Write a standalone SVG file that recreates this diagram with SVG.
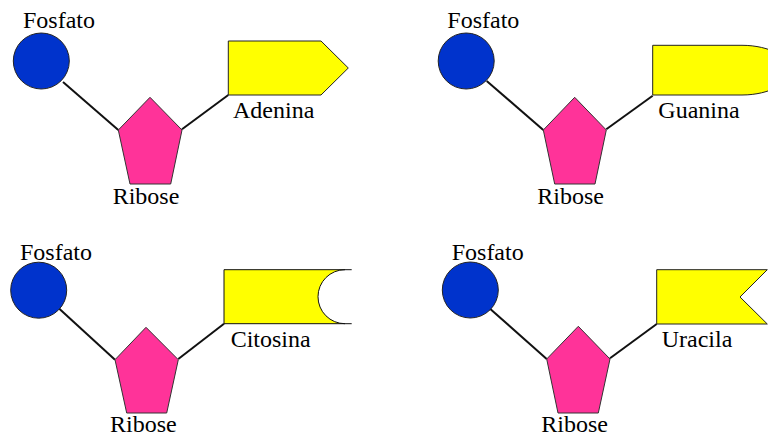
<svg xmlns="http://www.w3.org/2000/svg" width="768" height="436" viewBox="0 0 768 436">
<style>
text{font-family:"Liberation Serif","Times New Roman","DejaVu Serif",serif;font-size:24px;fill:#000}
.p{fill:#0033CC;stroke:#222;stroke-width:1}
.r{fill:#FF3399;stroke:#333;stroke-width:1}
.b{fill:#FFFF00;stroke:#222;stroke-width:1}
.c{stroke:#111;stroke-width:2;fill:none}
</style>
<rect width="768" height="436" fill="#fff"/>
<g id="connectors">
<line class="c" x1="63" y1="82" x2="118.3" y2="130"/>
<line class="c" x1="182" y1="129.3" x2="228.3" y2="95"/>
<line class="c" x1="486.7" y1="81" x2="543.3" y2="130"/>
<line class="c" x1="606.3" y1="129.3" x2="652.7" y2="95.7"/>
<line class="c" x1="59.3" y1="308.7" x2="115" y2="359.7"/>
<line class="c" x1="178.3" y1="359" x2="224" y2="323.7"/>
<line class="c" x1="490" y1="308.7" x2="546.7" y2="359"/>
<line class="c" x1="610" y1="358.3" x2="656.7" y2="324"/>
</g>
<g id="fosfato1"><circle class="p" cx="41.3" cy="61" r="28"/><text x="23" y="28" font-family="Liberation Serif, serif">Fosfato</text></g>
<g id="ribose1"><polygon class="r" points="150,97.3 182,130 170.7,184 130,184 118.3,130"/><text x="112.7" y="204" font-family="Liberation Serif, serif">Ribose</text></g>
<g id="adenina"><polygon class="b" points="228.3,41 321,41 348.3,68 321,95 228.3,95"/><text x="233" y="118.3" font-family="Liberation Serif, serif">Adenina</text></g>
<g id="fosfato2"><circle class="p" cx="466.2" cy="61" r="28"/><text x="447.3" y="28" font-family="Liberation Serif, serif">Fosfato</text></g>
<g id="ribose2"><polygon class="r" points="574.7,97.3 606.3,130 595,184 554.7,184 543.3,130"/><text x="537.3" y="204" font-family="Liberation Serif, serif">Ribose</text></g>
<g id="guanina"><path class="b" d="M652.7,45.3 H742 C770,45.3 792,58 792,70 C792,82 770,95 742,95 H652.7 Z"/><text x="658.3" y="118.3" font-family="Liberation Serif, serif">Guanina</text></g>
<g id="fosfato3"><circle class="p" cx="38.7" cy="290.2" r="28"/><text x="20" y="259.7" font-family="Liberation Serif, serif">Fosfato</text></g>
<g id="ribose3"><polygon class="r" points="146,327.3 178.3,359.7 166.7,413 126.7,413 115,359.7"/><text x="110" y="432" font-family="Liberation Serif, serif">Ribose</text></g>
<g id="citosina"><path d="M224,269.7 H345 A27,27 0 0 0 345,323.7 H224 Z" fill="#FFFF00" stroke="none"/><path class="c" style="stroke-width:1" d="M224,269.7 H351.7 M345,269.7 A27,27 0 0 0 345,323.7 M351.7,323.7 H224 V269.7"/><text x="230.7" y="347.3" font-family="Liberation Serif, serif">Citosina</text></g>
<g id="fosfato4"><circle class="p" cx="470.3" cy="290" r="28"/><text x="451.7" y="259.7" font-family="Liberation Serif, serif">Fosfato</text></g>
<g id="ribose4"><polygon class="r" points="578.3,326.3 610,359 598.3,413 558,413 546.7,359"/><text x="541.3" y="432" font-family="Liberation Serif, serif">Ribose</text></g>
<g id="uracila"><polygon class="b" points="656.7,269.7 767.3,269.7 740,297 767.3,324 656.7,324"/><text x="661.7" y="347.3" font-family="Liberation Serif, serif">Uracila</text></g>
</svg>
